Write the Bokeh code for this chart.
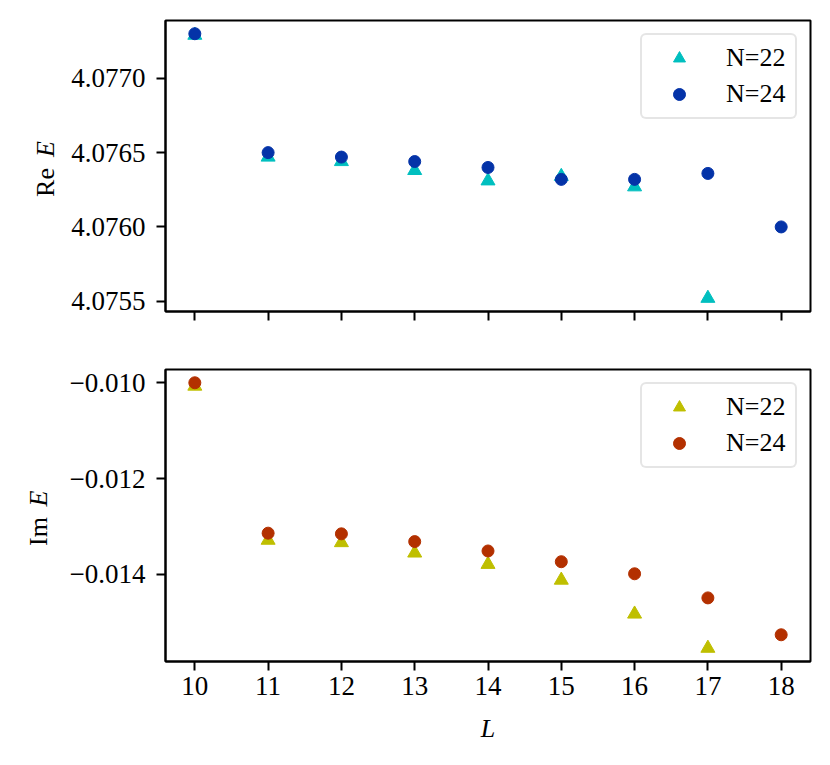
import math
from bokeh.plotting import figure
from bokeh.layouts import column, row
from bokeh.models import Range1d, FixedTicker, CustomJSTickFormatter, Label, Legend
from bokeh.embed import file_html
from bokeh.resources import INLINE

# ---- data ----
L22 = [10, 11, 12, 13, 14, 15, 16, 17]
L24 = [10, 11, 12, 13, 14, 15, 16, 17, 18]
re22 = [4.07729, 4.07647, 4.07644, 4.07638, 4.07631, 4.07634, 4.07627, 4.07552]
re24 = [4.07730, 4.07650, 4.07647, 4.07644, 4.07640, 4.07632, 4.07632, 4.07636, 4.07600]
im22 = [-0.01007, -0.013288, -0.013338, -0.013555, -0.013792, -0.014122, -0.014830, -0.015544]
im24 = [-0.01000, -0.013141, -0.013155, -0.013317, -0.013513, -0.013737, -0.013989, -0.014493, -0.015263]
xticks = [10, 11, 12, 13, 14, 15, 16, 17, 18]
re_ticks = [4.0755, 4.0760, 4.0765, 4.0770]
im_ticks = [-0.014, -0.012, -0.010]

FONT = "Liberation Serif"
FS = "26px"
TFS = "27px"
C_CYAN, C_BLUE = "#00bfbf", "#0433a8"
C_YEL, C_RED = "#bfbf00", "#b33000"

LW = 62  # width of the strip holding the vertical y labels


def pad(vals, frac=0.05):
    lo, hi = min(vals), max(vals)
    d = (hi - lo) * frac
    return lo - d, hi + d


xr = pad(xticks)


def style(p):
    p.xgrid.visible = False
    p.ygrid.visible = False
    p.outline_line_color = "black"
    p.outline_line_width = 2
    p.outline_line_alpha = 1
    for ax in (p.xaxis, p.yaxis):
        ax.axis_line_width = 2
        ax.major_tick_line_width = 2
        ax.major_tick_out = 9
        ax.major_tick_in = 0
        ax.minor_tick_out = 0
        ax.minor_tick_in = 0
        ax.major_label_text_font = FONT
        ax.major_label_text_font_size = TFS
        ax.major_label_text_color = "black"
        ax.axis_label_text_font = FONT
        ax.axis_label_text_font_size = FS
        ax.axis_label_text_color = "black"
    p.xaxis.ticker = FixedTicker(ticks=xticks)
    p.yaxis.major_label_standoff = 11
    p.xaxis.major_label_standoff = 6


def style_legend(p):
    lg = p.legend[0]
    lg.location = "top_right"
    lg.margin = 13
    lg.padding = 8
    lg.glyph_width = 58
    lg.glyph_height = 30
    lg.label_height = 30
    lg.label_width = 61
    lg.label_standoff = 18
    lg.spacing = 6
    lg.label_text_font = FONT
    lg.label_text_font_size = FS
    lg.label_text_color = "black"
    lg.border_line_color = "#cccccc"
    lg.border_line_width = 2
    lg.background_fill_alpha = 0.8
    if "border_radius" in Legend.properties():
        lg.border_radius = 6


def label_strip(height, parts):
    # its frame is aligned with the neighbouring plot's frame by the row layout
    s = figure(width=LW, height=height, output_backend="svg", toolbar_location=None,
               x_axis_type=None, y_axis_type=None, min_border=0,
               x_range=Range1d(0, 1), y_range=Range1d(0, 1))
    s.outline_line_color = None
    s.xgrid.visible = False
    s.ygrid.visible = False
    for x, y, text, italic in parts:
        s.add_layout(Label(x=x, y=y, x_units="screen", y_units="screen", text=text,
                           angle=math.pi / 2, text_align="center", text_baseline="middle",
                           text_font=FONT, text_font_size=FS,
                           text_font_style="italic" if italic else "normal",
                           text_color="black"))
    return s


# ---- top panel ----
H1 = 361
p1 = figure(width=830 - LW, height=H1, output_backend="svg", toolbar_location=None,
            x_range=Range1d(*xr), y_range=Range1d(*pad(re22 + re24)),
            min_border_left=165 - LW, min_border_right=20, min_border_top=20,
            min_border_bottom=H1 - 311)
style(p1)
p1.yaxis.ticker = FixedTicker(ticks=re_ticks)
p1.yaxis.formatter = CustomJSTickFormatter(code="return tick.toFixed(4);")
p1.xaxis.formatter = CustomJSTickFormatter(code="return '';")
p1.xaxis.major_label_standoff = 0
p1.scatter(L22, re22, marker="triangle", size=14, color=C_CYAN, legend_label="N=22")
p1.scatter(L24, re24, marker="circle", size=12, color=C_BLUE, legend_label="N=24")
style_legend(p1)
s1 = label_strip(H1, [(45, 129, "Re", False), (45, 162.5, "E", True)])

# ---- bottom panel ----
H2 = 404
p2 = figure(width=830 - LW, height=H2, output_backend="svg", toolbar_location=None,
            x_range=Range1d(*xr), y_range=Range1d(*pad(im22 + im24)),
            min_border_left=165 - LW, min_border_right=20, min_border_top=8,
            min_border_bottom=H2 - 300)
style(p2)
p2.yaxis.ticker = FixedTicker(ticks=im_ticks)
p2.yaxis.formatter = CustomJSTickFormatter(
    code="return (tick < 0 ? '\u2212' : '') + Math.abs(tick).toFixed(3);")
p2.xaxis.axis_label = "L"
p2.xaxis.axis_label_text_font_style = "italic"
p2.xaxis.axis_label_standoff = 16
p2.scatter(L22, im22, marker="triangle", size=14, color=C_YEL, legend_label="N=22")
p2.scatter(L24, im24, marker="circle", size=12, color=C_RED, legend_label="N=24")
style_legend(p2)
s2 = label_strip(H2, [(37.5, 130, "Im", False), (37.5, 163, "E", True)])

layout = column(row(s1, p1, spacing=0), row(s2, p2, spacing=0), spacing=0)
open("out.html", "w").write(file_html(layout, INLINE))
